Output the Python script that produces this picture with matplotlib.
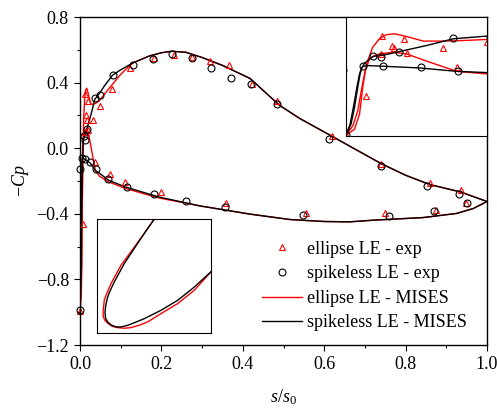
import numpy as np
import matplotlib
matplotlib.use("Agg")
import matplotlib.pyplot as plt
from matplotlib.ticker import MultipleLocator

plt.rcParams['font.family'] = ['Liberation Serif', 'DejaVu Serif']
plt.rcParams['mathtext.fontset'] = 'custom'
plt.rcParams['mathtext.rm'] = 'Liberation Serif'
plt.rcParams['mathtext.it'] = 'Liberation Serif:italic'
plt.rcParams['font.size'] = 13

# MISES surface distributions, -Cp against s/s0 (suction side and pressure side)
s_up_spk = [0.0, 0.0017, 0.0029, 0.0040, 0.0048, 0.0055, 0.0063, 0.0074, 0.0091, 0.0126,
            0.0183, 0.0274, 0.0366, 0.048, 0.06, 0.08, 0.10, 0.13]
cp_up_spk = [-0.99, -0.843, -0.619, -0.351, -0.171, -0.082, -0.028, 0.008, 0.062, 0.079,
             0.129, 0.209, 0.299, 0.335, 0.38, 0.445, 0.478, 0.52]
s_up_ell = [0.0, 0.0023, 0.0040, 0.0051, 0.0063, 0.0074, 0.0091, 0.0114, 0.0137, 0.0166,
            0.0206, 0.0263, 0.0331, 0.0400, 0.048, 0.06, 0.078, 0.10, 0.119, 0.13]
cp_up_ell = [-0.99, -0.866, -0.664, -0.418, -0.171, 0.008, 0.187, 0.299, 0.353, 0.366,
             0.330, 0.268, 0.268, 0.276, 0.290, 0.33, 0.384, 0.45, 0.497, 0.52]
s_up_tail = [0.17, 0.20, 0.225, 0.26, 0.30, 0.35, 0.418, 0.49, 0.54, 0.622, 0.663, 0.74,
             0.80, 0.86, 0.934, 1.0]
cp_up_tail = [0.562, 0.582, 0.591, 0.585, 0.553, 0.505, 0.425, 0.262, 0.181, 0.069, 0.012,
              -0.094, -0.165, -0.222, -0.266, -0.325]

s_lo_spk = [0.0, 0.0014, 0.0025, 0.0037, 0.0046, 0.0053, 0.0059, 0.0074, 0.0126, 0.0251,
            0.0377, 0.048, 0.07, 0.111, 0.193]
cp_lo_spk = [-0.99, -0.843, -0.619, -0.351, -0.171, -0.091, -0.068, -0.059, -0.068, -0.091,
             -0.136, -0.153, -0.195, -0.236, -0.297]
s_lo_ell = [0.0, 0.0029, 0.0046, 0.0057, 0.0066, 0.0080, 0.0097, 0.0114, 0.016, 0.0206,
            0.0286, 0.0377, 0.048, 0.07, 0.111, 0.193]
cp_lo_ell = [-0.99, -0.91, -0.709, -0.351, -0.127, 0.030, 0.075, 0.097, 0.12, 0.097,
             -0.015, -0.136, -0.171, -0.205, -0.245, -0.303]
s_lo_tail = [0.295, 0.418, 0.516, 0.60, 0.663, 0.72, 0.843, 0.925, 0.966, 1.0]
cp_lo_tail = [-0.352, -0.402, -0.435, -0.447, -0.449, -0.439, -0.423, -0.398, -0.368, -0.325]

# measured pressure taps
s_exp_ell = [0.0, 0.0069, 0.0118, 0.0123, 0.0158, 0.0162, 0.0197, 0.0206, 0.0329, 0.0377,
             0.048, 0.079, 0.124, 0.182, 0.231, 0.274, 0.319, 0.366, 0.423, 0.485, 0.620,
             0.740, 0.860, 0.936, 0.073, 0.111, 0.199, 0.359, 0.555, 0.75, 0.874, 0.948]
cp_exp_ell = [-0.99, -0.463, 0.097, 0.330, 0.200, 0.174, 0.290, 0.111, 0.174, -0.082,
              0.258, 0.364, 0.492, 0.547, 0.569, 0.557, 0.532, 0.51, 0.394, 0.287, 0.073,
              -0.094, -0.215, -0.252, -0.16, -0.207, -0.268, -0.337, -0.394, -0.394, -0.378, -0.337]
s_exp_spk = [0.0, -0.001, 0.0059, 0.0091, 0.0120, 0.0126, 0.0181, 0.0255, 0.0363, 0.0381,
             0.049, 0.082, 0.131, 0.179, 0.227, 0.274, 0.322, 0.371, 0.419, 0.483, 0.612,
             0.740, 0.852, 0.932, 0.070, 0.116, 0.182, 0.260, 0.357, 0.549, 0.758, 0.870, 0.951]
cp_exp_spk = [-0.988, -0.124, -0.059, 0.075, 0.053, -0.068, 0.120, -0.082, 0.308, -0.127,
              0.327, 0.449, 0.51, 0.545, 0.573, 0.553, 0.49, 0.431, 0.394, 0.268, 0.055,
              -0.108, -0.232, -0.277, -0.185, -0.238, -0.279, -0.319, -0.358, -0.410, -0.415,
              -0.385, -0.333]

# leading-edge contours (ellipse vs spikeless), normalised inset coordinates
le_x_ell = [0.503, 0.415, 0.298, 0.211, 0.123, 0.079, 0.064, 0.053, 0.056, 0.070, 0.088,
            0.13, 0.181, 0.24, 0.298, 0.37, 0.444, 0.561, 0.708, 0.854, 1.0]
le_y_ell = [1.0, 0.874, 0.713, 0.595, 0.434, 0.331, 0.287, 0.185, 0.14, 0.11, 0.091,
            0.06, 0.047, 0.042, 0.047, 0.068, 0.097, 0.17, 0.258, 0.375, 0.537]
le_x_spk = [0.503, 0.415, 0.327, 0.24, 0.152, 0.108, 0.094, 0.078, 0.070, 0.075, 0.094,
            0.125, 0.167, 0.21, 0.269, 0.34, 0.415, 0.561, 0.708, 0.85, 1.0]
le_y_spk = [1.0, 0.874, 0.742, 0.61, 0.449, 0.355, 0.317, 0.25, 0.185, 0.13, 0.097,
            0.07, 0.053, 0.053, 0.067, 0.095, 0.126, 0.199, 0.287, 0.4, 0.537]

RED = '#ff0000'

fig = plt.figure(figsize=(4.97, 4.12), dpi=100)
ax = fig.add_axes([80 / 497, 67 / 412, 407 / 497, 328 / 412])


def draw_cp(a, with_labels):
    a.plot(s_up_ell + s_up_tail, cp_up_ell + cp_up_tail, color=RED, lw=1.0,
           label='ellipse LE - MISES' if with_labels else None)
    a.plot(s_lo_ell + s_lo_tail, cp_lo_ell + cp_lo_tail, color=RED, lw=1.0)
    a.plot(s_up_spk + s_up_tail, cp_up_spk + cp_up_tail, color='black', lw=1.0,
           label='spikeless LE - MISES' if with_labels else None)
    a.plot(s_lo_spk + s_lo_tail, cp_lo_spk + cp_lo_tail, color='black', lw=1.0)
    a.plot(s_exp_ell, cp_exp_ell, ls='none', marker='^', ms=5, mfc='none', mec=RED,
           mew=0.8, clip_on=not with_labels,
           label='ellipse LE - exp' if with_labels else None)
    a.plot(s_exp_spk, cp_exp_spk, ls='none', marker='o', ms=5, mfc='none', mec='black',
           mew=0.8, clip_on=not with_labels,
           label='spikeless LE - exp' if with_labels else None)


draw_cp(ax, True)
ax.set_xlim(0, 1)
ax.set_ylim(-1.2, 0.8)
ax.xaxis.set_major_locator(MultipleLocator(0.2))
ax.xaxis.set_minor_locator(MultipleLocator(0.1))
ax.yaxis.set_major_locator(MultipleLocator(0.4))
ax.yaxis.set_minor_locator(MultipleLocator(0.2))
ax.xaxis.set_major_formatter(lambda v, p: f'{v:.1f}')
ax.yaxis.set_major_formatter(lambda v, p: f'{v:.1f}'.replace('-', '\u2212'))
ax.tick_params(which='both', direction='out', top=False, right=False, width=0.8)
ax.tick_params(which='major', length=4, pad=4)
ax.tick_params(which='minor', length=2)
for sp in ax.spines.values():
    sp.set_linewidth(1.0)
ax.set_xlabel(r'$s/s_0$', labelpad=10)
ax.set_ylabel(r'$-Cp$', labelpad=4)

h, l = ax.get_legend_handles_labels()
order = [2, 3, 0, 1]
ax.legend([h[i] for i in order], [l[i] for i in order], loc='upper left',
          bbox_to_anchor=(0.447, 0.318), frameon=False, borderpad=0, borderaxespad=0,
          handlelength=2.2, handletextpad=0.3, labelspacing=0.42)

# zoom on the leading-edge pressure spike
ax_cp = fig.add_axes([346 / 497, 276 / 412, 141 / 497, 119 / 412])
draw_cp(ax_cp, False)
ax_cp.set_xlim(0, 0.048)
ax_cp.set_ylim(-1.0, 0.59)
ax_cp.set_xticks([])
ax_cp.set_yticks([])

# leading-edge geometry
ax_le = fig.add_axes([97 / 497, 79 / 412, 114 / 497, 114 / 412])
ax_le.plot(le_x_ell, le_y_ell, color=RED, lw=1.0)
ax_le.plot(le_x_spk, le_y_spk, color='black', lw=1.0)
ax_le.set_xlim(0, 1)
ax_le.set_ylim(0, 1)
ax_le.set_xticks([])
ax_le.set_yticks([])

fig.savefig('out.png', dpi=100)
